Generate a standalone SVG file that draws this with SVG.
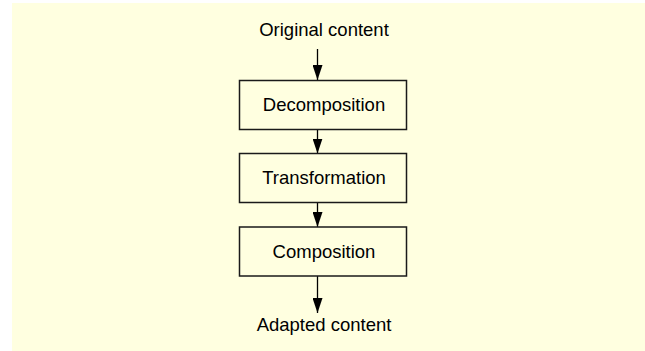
<svg xmlns="http://www.w3.org/2000/svg" width="645" height="351" viewBox="0 0 645 351">
  <defs>
    <style>
      .box { fill: none; stroke: #1a1a1a; stroke-width: 1.5; }
      .lbl { font-family: "Liberation Sans", Arial, sans-serif; font-size: 18.5px; fill: #000; text-anchor: middle; }
      .conn { stroke: #000; stroke-width: 1.3; fill: none; marker-end: url(#ah); }
    </style>
    <marker id="ah" viewBox="0 0 15 10" refX="15" refY="5" markerWidth="15" markerHeight="10" markerUnits="userSpaceOnUse" orient="auto">
      <path d="M0,0 L15,5 L0,10 z" fill="#000"/>
    </marker>
  </defs>
  <rect x="12" y="3" width="633" height="348" fill="#FFFFE0"/>
  <g id="connectors">
    <line class="conn" x1="317.5" y1="49" x2="317.5" y2="80"/>
    <line class="conn" x1="317.5" y1="129.5" x2="317.5" y2="153.5"/>
    <line class="conn" x1="317.5" y1="202.5" x2="317.5" y2="227"/>
    <line class="conn" x1="317.5" y1="276" x2="317.5" y2="313"/>
  </g>
  <g id="original">
    <text class="lbl" x="324" y="36">Original content</text>
  </g>
  <g id="decomposition">
    <rect class="box" x="239.5" y="80.5" width="167" height="49"/>
    <text class="lbl" x="324" y="111">Decomposition</text>
  </g>
  <g id="transformation">
    <rect class="box" x="239.5" y="153.5" width="167" height="49"/>
    <text class="lbl" x="324" y="184">Transformation</text>
  </g>
  <g id="composition">
    <rect class="box" x="239.5" y="227" width="167" height="49"/>
    <text class="lbl" x="324" y="257.5">Composition</text>
  </g>
  <g id="adapted">
    <text class="lbl" x="324" y="331">Adapted content</text>
  </g>
</svg>
